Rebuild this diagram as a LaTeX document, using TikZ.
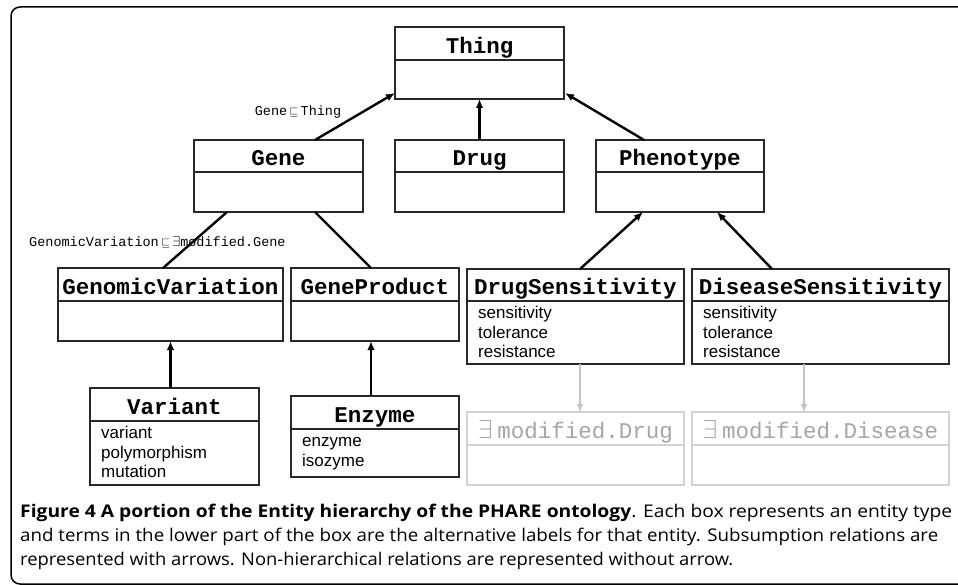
\documentclass[tikz,border=0pt]{standalone}
\usepackage{fontspec}
\usepackage{graphicx}
\usetikzlibrary{arrows.meta,calc}
\newfontfamily\monof{Liberation Mono}
\newfontfamily\altf{Liberation Sans}
\newfontfamily\capf{Open Sans}
\definecolor{lgray}{RGB}{210,210,210}
\definecolor{gtext}{RGB}{165,165,165}
\definecolor{garrow}{RGB}{196,196,196}
\definecolor{bord}{RGB}{40,40,40}
\tikzset{
  boxs/.style={draw=bord,line width=1.1pt,inner sep=0pt,outer sep=0pt,rectangle},
  divl/.style={draw=bord,line width=1.1pt},
  faded/.style={draw=lgray,text=gtext},
  titles/.style={inner sep=0pt,font=\monof\bfseries\fontsize{22.5}{26}\selectfont},
  alts/.style={inner sep=0pt,anchor=base west,font=\altf\fontsize{17}{19.5}\selectfont},
  relab/.style={inner sep=0pt,font=\monof\fontsize{13.5}{16}\selectfont},
  arr/.style={line width=2.4pt,-{Latex[length=9pt,width=7.5pt]}},
  garr/.style={line width=2pt,draw=garrow,-{Latex[length=8pt,width=7pt]}},
  plainl/.style={line width=2.4pt},
}
% #1 extra style, #2 name, #3 x1, #4 y1, #5 x2, #6 ydiv, #7 y2, #8 title
\newcommand\umlbox[8][]{%
  \pgfmathsetmacro\bw{#5-#3}%
  \pgfmathsetmacro\bh{#7-#4}%
  \node[boxs,#1,minimum width=\bw pt,minimum height=\bh pt,anchor=north west] (#2) at (#3,#4) {};
  \draw[divl,#1] (#3,#6) -- (#5,#6);
  \node[titles,#1,draw=none,anchor=base] (#2-t) at ({(#3+#5)/2},{#6-6.5}) {#8};
}
% #1 name, #2 x1, #3 ydiv, #4 list
\newcommand\altlines[4]{%
  \foreach \t [count=\i] in {#4} {
    \node[alts] (#1-l\i) at ({#2+11},{#3+17.5+(\i-1)*19.5}) {\t};
  }
}
\newcommand\bigex{\scalebox{1.25}{$\exists$}\hspace{5pt}}
\newcommand\smsub{\raisebox{0.5pt}{\scalebox{0.8}{$\sqsubseteq$}}}
\begin{document}
\begin{tikzpicture}[x=1pt,y=-1pt]
\useasboundingbox (0,0) rectangle (958,585);
% frame
\draw[line width=1.5pt,rounded corners=9pt] (11,7) rectangle (985,584);

% boxes
\umlbox{thing}{395}{27}{564}{60}{99}{Thing}
\umlbox{gene}{194}{140}{363}{172}{212}{Gene}
\umlbox{drug}{395}{140}{564}{172}{212}{Drug}
\umlbox{pheno}{596}{140}{764}{172}{212}{Phenotype}
\umlbox{gv}{58}{268}{283}{301}{341}{GenomicVariation}
\umlbox{gp}{291}{268}{459}{301}{341}{GeneProduct}
\umlbox{ds}{467}{269}{684}{301}{364}{DrugSensitivity}
\umlbox{dis}{692}{269}{949}{301}{364}{DiseaseSensitivity}
\umlbox{var}{90}{388}{259}{421}{485}{Variant}
\umlbox{enz}{291}{396}{459}{429}{477}{Enzyme}
\umlbox[faded]{mdrug}{467}{412}{684}{445}{485}{\mdseries\bigex modified.Drug}
\umlbox[faded]{mdis}{692}{412}{949}{445}{485}{\mdseries\bigex modified.Disease}

\altlines{ds}{467}{301}{sensitivity,tolerance,resistance}
\altlines{dis}{692}{301}{sensitivity,tolerance,resistance}
\altlines{var}{90}{421}{variant,polymorphism,mutation}
\altlines{enz}{291}{429}{enzyme,isozyme}

% relation labels
\node[relab,anchor=base] (lab1) at (298,116) {Gene\,\smsub\,Thing};
\node[relab,anchor=base west] (lab2) at (29,247) {GenomicVariation\,\smsub\,$\exists$modified.Gene};

% connectors
\draw[arr] ([xshift=36.5pt]gene.north) -- ([yshift=6pt]thing.south west);
\draw[arr] (drug.north) -- (thing.south);
\draw[arr] ([xshift=-36pt]pheno.north) -- ([xshift=1pt,yshift=6pt]thing.south east);
\draw[plainl] ([xshift=-7.5pt]gv.north) -- ([xshift=33pt]gene.south west);
\draw[plainl] ([xshift=-4pt]gp.north) -- ([xshift=-48pt]gene.south east);
\draw[arr] (var.north -| gv.south) -- (gv.south);
\draw[arr] ([xshift=-4pt]enz.north) -- ([xshift=-4pt]gp.south);
\draw[arr] ([xshift=4.5pt]ds.north) -- ([xshift=-37pt]pheno.south);
\draw[arr] ([xshift=-48.5pt]dis.north) -- ([xshift=37pt]pheno.south);
\draw[garr] ([xshift=4.5pt]ds.south) -- ([xshift=4.5pt]mdrug.north);
\draw[garr] ([xshift=-16.5pt]dis.south) -- ([xshift=-16.5pt]mdis.north);

% caption
\node[anchor=base west,inner sep=0pt] (cap1) at (20,517) {\resizebox{932pt}{\height}{\capf\fontsize{17.5}{20}\selectfont\textbf{Figure 4 A portion of the Entity hierarchy of the PHARE ontology}. Each box represents an entity type}};
\node[anchor=base west,inner sep=0pt] (cap2) at (20,541) {\resizebox{918pt}{\height}{\capf\fontsize{17.5}{20}\selectfont and terms in the lower part of the box are the alternative labels for that entity. Subsumption relations are}};
\node[anchor=base west,inner sep=0pt] (cap3) at (20,565) {\resizebox{713pt}{\height}{\capf\fontsize{17.5}{20}\selectfont represented with arrows. Non-hierarchical relations are represented without arrow.}};
\end{tikzpicture}
\end{document}
